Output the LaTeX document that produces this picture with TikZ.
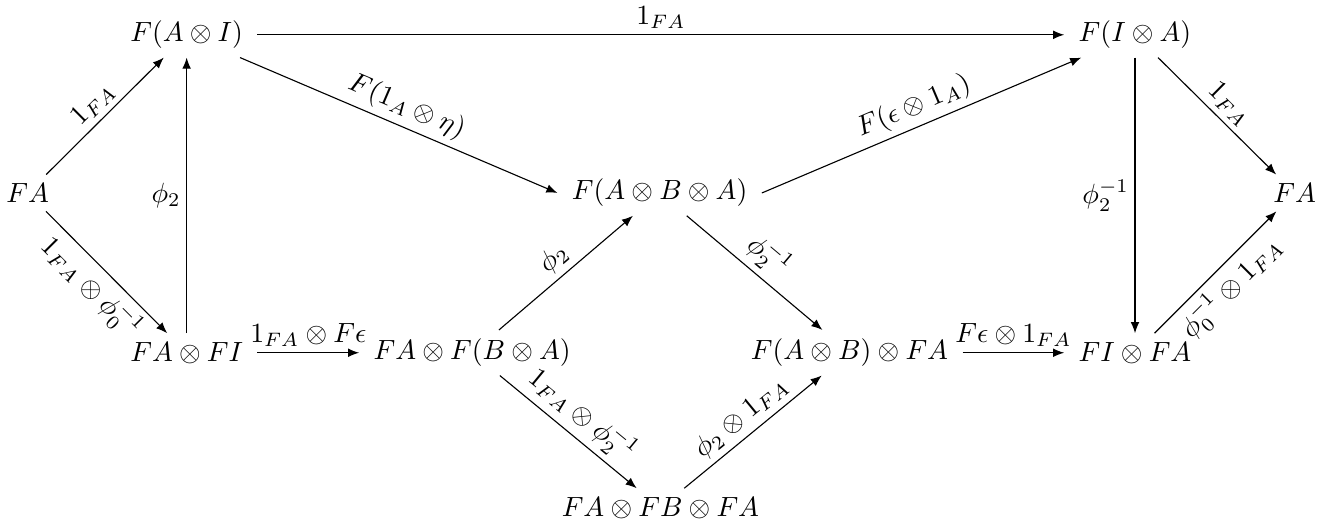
\documentclass[tikz,border=0pt]{standalone}
\usetikzlibrary{arrows.meta}

\begin{document}
\begin{tikzpicture}[
    obj/.style={inner xsep=5pt, inner ysep=3pt},
    arrow/.style={-{Latex[length=1.4mm,width=1.1mm]}},
    lbl/.style={inner sep=2pt}
  ]
  \useasboundingbox (0,0) rectangle (16.79,6.70);

  \node[obj] (FAI) at (2.36,6.26) {$F(A\otimes I)$};
  \node[obj] (FIA) at (14.35,6.26) {$F(I\otimes A)$};
  \node[obj] (FAl) at (0.35,4.26) {$FA$};
  \node[obj] (FABA) at (8.34,4.26) {$F(A\otimes B\otimes A)$};
  \node[obj] (FAr) at (16.37,4.26) {$FA$};
  \node[obj] (FAFI) at (2.36,2.24) {$FA\otimes FI$};
  \node[obj] (FAFBA) at (5.97,2.24) {$FA\otimes F(B\otimes A)$};
  \node[obj] (FABFA) at (10.74,2.24) {$F(A\otimes B)\otimes FA$};
  \node[obj] (FIFA) at (14.35,2.24) {$FI\otimes FA$};
  \node[obj] (FAFBFA) at (8.35,0.28) {$FA\otimes FB\otimes FA$};

  % outer square
  \draw[arrow] (FAI) -- node[lbl, above] {$1_{FA}$} (FIA);
  \draw[arrow] (FAl) -- node[lbl, above, sloped] {$1_{FA}$} (FAI);
  \draw[arrow] (FAl) -- node[lbl, below, sloped] {$1_{FA}\otimes\phi_0^{-1}$} (FAFI);
  \draw[arrow] (FAFI) -- node[lbl, left] {$\phi_2$} (FAI);
  \draw[arrow] (FIA) -- node[lbl, above, sloped] {$1_{FA}$} (FAr);
  \draw[arrow] (FIA) -- node[lbl, left] {$\phi_2^{-1}$} (FIFA);
  \draw[arrow] (FIFA) -- node[lbl, below, sloped] {$\phi_0^{-1}\otimes 1_{FA}$} (FAr);

  % middle
  \draw[arrow] (FAI) -- node[lbl, above, sloped] {$F(1_A\otimes\eta)$} (FABA.west);
  \draw[arrow] (FABA.east) -- node[lbl, above, sloped] {$F(\epsilon\otimes 1_A)$} (FIA);
  \draw[arrow] (FAFI) -- node[lbl, above] {$1_{FA}\otimes F\epsilon$} (FAFBA);
  \draw[arrow] (FABFA) -- node[lbl, above] {$F\epsilon\otimes 1_{FA}$} (FIFA);
  \draw[arrow] (FAFBA) -- node[lbl, above, sloped] {$\phi_2$} (FABA);
  \draw[arrow] (FABA) -- node[lbl, above, sloped] {$\phi_2^{-1}$} (FABFA);
  \draw[arrow] (FAFBA) -- node[lbl, above, sloped] {$1_{FA}\otimes\phi_2^{-1}$} (FAFBFA);
  \draw[arrow] (FAFBFA) -- node[lbl, above, sloped] {$\phi_2\otimes 1_{FA}$} (FABFA);
\end{tikzpicture}
\end{document}
